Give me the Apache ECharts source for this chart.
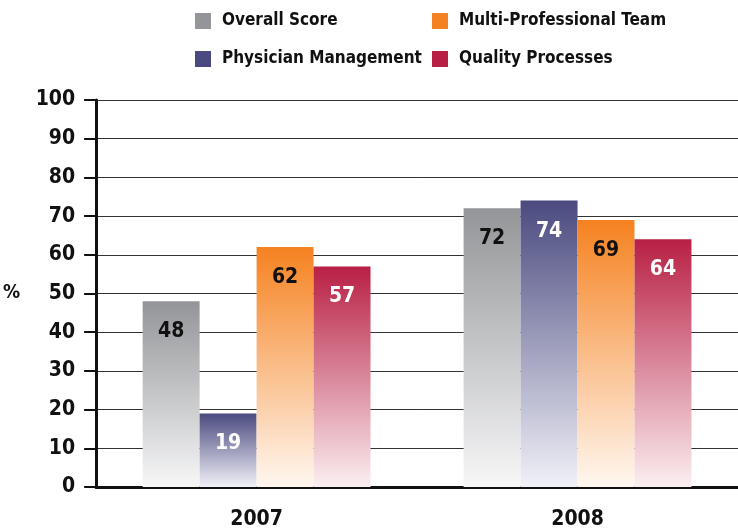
<!DOCTYPE html>
<html>
<head>
<meta charset="utf-8">
<script src="https://cdn.jsdelivr.net/npm/echarts@6/dist/echarts.min.js"></script>
<style>
  html, body { margin: 0; padding: 0; background: #fff; }
  #chart { width: 738px; height: 531px; }
</style>
</head>
<body>
<div id="chart"></div>
<script>
const years = ["2007", "2008"];
const overallScore = [48, 72];
const physicianManagement = [19, 74];
const multiProfessionalTeam = [62, 69];
const qualityProcesses = [57, 64];

const FONT = "'DejaVu Sans Condensed', 'Liberation Sans Narrow', sans-serif";

// top colour, bottom colour, label colour
const looks = {
  "Overall Score": ["#939598", "#f7f7f8", "#111"],
  "Physician Management": ["#4a4a80", "#f1f1f8", "#fff"],
  "Multi-Professional Team": ["#f58220", "#fff7f0", "#111"],
  "Quality Processes": ["#b81f44", "#fbeff1", "#fff"],
};

function barSeries(name, values) {
  const [top, bottom, labelColor] = looks[name];
  return {
    name,
    type: "bar",
    data: values,
    barGap: 0,
    barCategoryGap: "29%",
    itemStyle: {
      color: new echarts.graphic.LinearGradient(0, 0, 0, 1, [
        { offset: 0, color: top },
        { offset: 1, color: bottom },
      ]),
    },
    label: {
      show: true,
      position: "insideTop",
      distance: 20,
      color: labelColor,
      fontFamily: FONT,
      fontWeight: "bold",
      fontSize: 21,
    },
  };
}

function legendItem(name) {
  return { name, itemStyle: { color: looks[name][0] } };
}

const legendText = {
  fontFamily: FONT,
  fontWeight: "bold",
  fontSize: 17,
  lineHeight: 22,
  color: "#111",
  padding: [0, 0, 0, 6],
};

const chart = echarts.init(document.getElementById("chart"));
chart.setOption({
  animation: false,
  legend: [
    {
      orient: "vertical",
      left: 190,
      top: 5,
      itemWidth: 16,
      itemHeight: 16,
      itemGap: 16,
      icon: "rect",
      selectedMode: false,
      textStyle: legendText,
      data: [legendItem("Overall Score"), legendItem("Physician Management")],
    },
    {
      orient: "vertical",
      left: 427,
      top: 5,
      itemWidth: 16,
      itemHeight: 16,
      itemGap: 16,
      icon: "rect",
      selectedMode: false,
      textStyle: legendText,
      data: [legendItem("Multi-Professional Team"), legendItem("Quality Processes")],
    },
  ],
  grid: { left: 94, right: 0, top: 100, bottom: 44 },
  xAxis: {
    type: "category",
    data: years,
    axisLine: { lineStyle: { color: "#111", width: 3 } },
    axisTick: { show: false },
    axisLabel: {
      margin: 22,
      color: "#111",
      fontFamily: FONT,
      fontWeight: "bold",
      fontSize: 21,
    },
  },
  yAxis: {
    type: "value",
    min: 0,
    max: 100,
    interval: 10,
    name: "%",
    nameLocation: "middle",
    nameRotate: 0,
    nameGap: 76,
    nameTextStyle: {
      color: "#111",
      fontFamily: FONT,
      fontWeight: "bold",
      fontSize: 19,
    },
    axisLine: { show: true, lineStyle: { color: "#111", width: 3 } },
    axisTick: { show: true, length: 12, lineStyle: { color: "#111", width: 2 } },
    axisLabel: {
      margin: 21,
      color: "#111",
      fontFamily: FONT,
      fontWeight: "bold",
      fontSize: 21,
    },
    splitLine: { lineStyle: { color: "#333", width: 1 } },
  },
  series: [
    barSeries("Overall Score", overallScore),
    barSeries("Physician Management", physicianManagement),
    barSeries("Multi-Professional Team", multiProfessionalTeam),
    barSeries("Quality Processes", qualityProcesses),
  ],
});
</script>
</body>
</html>
